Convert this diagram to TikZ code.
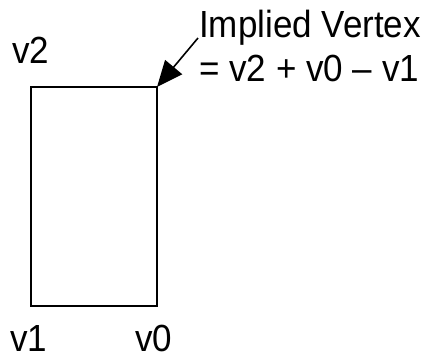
\documentclass[tikz,border=0pt]{standalone}
\usepackage{fontspec}
\setmainfont{Liberation Sans}
\usetikzlibrary{arrows.meta,positioning}

\begin{document}
\begin{tikzpicture}[x=1pt, y=-1pt, every node/.style={inner sep=0pt, yscale=1.08, font=\fontsize{35}{40.5}\selectfont}, edge/.style={line width=1.8pt}, arr/.style={-{Triangle[length=26pt,width=22pt]}, line width=1.6pt}]
\useasboundingbox (0,0) rectangle (424,360);
% corners of the quad
\coordinate (c2) at (31,87);
\coordinate (c3) at (157,87);
\coordinate (c1) at (31,306);
\coordinate (c0) at (157,306);
\draw[edge] (c2) -- (c3) -- (c0) -- (c1) -- cycle;
% vertex labels
\node[anchor=base west] (lv2) at (12,63) {v2};
\node[anchor=base west] (lv1) at (10,351) {v1};
\node[anchor=base west] (lv0) at (135,351) {v0};
% implied vertex
\node[anchor=north west, align=left] (impl) at (199,10) {Implied Vertex\\= v2 + v0 -- v1};
\coordinate (tail) at (198,38);
\draw[arr] (tail) -- (c3);
\end{tikzpicture}
\end{document}
